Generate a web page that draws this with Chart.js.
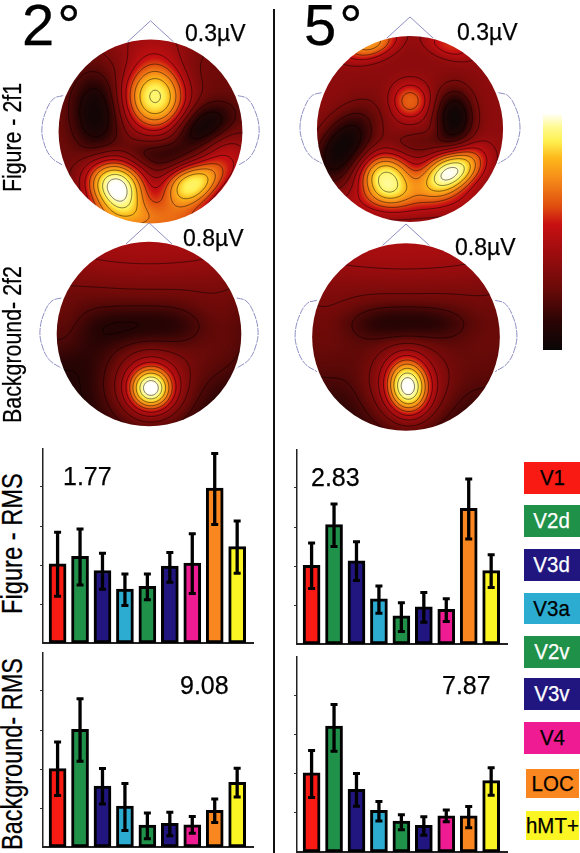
<!DOCTYPE html>
<html><head><meta charset="utf-8">
<style>
html,body{margin:0;padding:0;background:#fff;width:580px;height:853px;overflow:hidden}
#stage{position:relative;width:580px;height:853px;font-family:"Liberation Sans",Arial,sans-serif}
canvas{position:absolute;display:block}
.t{position:absolute;line-height:1;white-space:nowrap;z-index:5;color:#000;-webkit-text-stroke:.25px currentColor}
.key{position:absolute;z-index:5;display:flex;align-items:center;justify-content:center;font-size:22px;line-height:1;-webkit-text-stroke:.25px currentColor}
.key span{display:inline-block;transform:scaleX(.93);white-space:nowrap}
#divider{position:absolute;left:273px;top:9px;width:2px;height:844px;background:#111}
</style></head><body>
<div id="stage"><div id="divider"></div></div>
<script src="https://cdn.jsdelivr.net/npm/chart.js@4/dist/chart.umd.js"></script>
<script>
const regions = ['V1','V2d','V3d','V3a','V2v','V3v','V4','LOC','hMT+'];
const regionColors = ['#fa1a14','#1f9148','#21167f','#2bacd0','#1f9148','#21167f','#ef1b93','#f9861e','#fbf523'];
const regionText = ['#000','#fff','#fff','#000','#fff','#fff','#000','#000','#000'];

const fig2Mean = [2.03,2.22,1.86,1.38,1.45,1.97,2.05,3.97,2.47];
const fig2Hi   = [2.84,2.92,2.30,1.77,1.77,2.32,2.80,4.86,3.13];
const fig2Lo   = [1.20,1.49,1.38,0.96,1.11,1.56,1.27,3.04,1.79];
const bg2Mean  = [2.01,3.02,1.56,1.05,0.56,0.61,0.57,0.94,1.66];
const bg2Hi    = [2.69,3.80,2.01,1.63,0.87,0.89,0.78,1.23,2.02];
const bg2Lo    = [1.32,2.20,1.10,0.42,0.21,0.29,0.35,0.63,1.28];
const fig5Mean = [2.02,3.06,2.13,1.16,0.72,0.95,0.89,3.48,1.88];
const fig5Hi   = [2.59,3.59,2.62,1.49,1.06,1.32,1.16,4.23,2.29];
const fig5Lo   = [1.42,2.50,1.63,0.79,0.32,0.56,0.58,2.69,1.45];
const bg5Mean  = [2.02,3.21,1.60,1.06,0.79,0.68,0.92,0.92,1.82];
const bg5Hi    = [2.59,3.76,2.00,1.29,0.95,0.90,1.07,1.16,2.15];
const bg5Lo    = [1.39,2.57,1.17,0.79,0.57,0.43,0.77,0.62,1.45];

const colorStops = [0,.12,.26,.40,.53,.61,.72,.81,.88,.94,1];
const colorHex = ['#0a0606','#2a0404','#6a0a08','#9a0c0e','#c81012','#e0500f','#f58a18','#fdb81a','#fff050','#fffa90','#ffffff'];

/* scalp maps: base level + blobs [x, y, amplitude, sigmaX, sigmaY, tilt] in head units */
const head2f1Base = 0.27;
const head2f1Blobs = [[.05,.38,.64,.25,.28,0],[-.6,.2,-.24,.2,.32,.05],[.58,.06,-.24,.26,.16,.5],[.1,-.25,-.13,.28,.12,-.1],
 [-.37,-.6,.74,.25,.21,-.5],[.45,-.58,.62,.25,.17,.4],[0,-1.0,.38,.6,.18,0],[0,1,.14,.4,.22,0],[.85,-.3,.2,.2,.2,0]];
const head5f1Base = 0.36;
const head5f1Blobs = [[-.43,.92,.38,.22,.12,.3],[.43,.9,.2,.2,.1,-.3],[0,.3,.28,.15,.15,0],[.48,.12,-.34,.16,.24,0],
 [-.72,-.2,-.34,.2,.35,-.6],[-.25,-.54,.57,.22,.19,-.4],[.43,-.47,.64,.27,.16,.5],[.1,-.15,-.1,.25,.1,0],[0,-.78,.12,.6,.12,0]];
const head2f2Base = 0.08;
const head2f2Blobs = [[.02,-.59,.56,.17,.17,0],[.02,-.55,.38,.36,.36,0],[0,1.1,.36,2,.62,0],[0,.08,-.1,.5,.16,0],
 [.75,-.1,.14,.3,.35,0],[-1,.05,.1,.25,.25,0]];
const head5f2Base = 0.09;
const head5f2Blobs = [[.02,-.53,.56,.16,.21,.1],[.02,-.5,.36,.36,.38,0],[0,1.1,.36,2,.62,0],[0,.15,-.13,.45,.14,0],
 [-.9,-.1,.14,.35,.4,0],[.9,-.2,.14,.35,.4,0]];

const noseX = [-.25,0,.25], noseY = [.975,1.204,.975];
const earX = [.95,1.05,1.13,1.18,1.16,1.08,.95], earY = [.39,.36,.24,.05,-.12,-.28,-.37];
const contourLevels = [.1,.2,.3,.4,.5,.6,.7,.8,.9,.97];

Chart.defaults.animation = false;
const stage = document.getElementById('stage');
function mk(x,y,w,h){const c=document.createElement('canvas');c.width=w;c.height=h;c.style.left=x+'px';c.style.top=y+'px';c.style.width=w+'px';c.style.height=h+'px';stage.appendChild(c);return c;}
function txt(s,x,base,fs,extra){const d=document.createElement('div');d.className='t';d.textContent=s;d.style.left=x+'px';d.style.top=(base-.8465*fs)+'px';d.style.fontSize=fs+'px';if(extra)Object.assign(d.style,extra);stage.appendChild(d);}
function vtxt(s,bx,bottom,fs,sx){const d=document.createElement('div');d.className='t';d.textContent=s;d.style.left=(bx-.8465*fs)+'px';d.style.top=bottom+'px';d.style.fontSize=fs+'px';d.style.transformOrigin='0 0';d.style.transform='rotate(-90deg) scaleX('+sx+')';stage.appendChild(d);}

const rgb = colorHex.map(h=>[parseInt(h.slice(1,3),16),parseInt(h.slice(3,5),16),parseInt(h.slice(5,7),16)]);
function cmap(v){v=Math.max(0,Math.min(1,v));let i=0;while(i<colorStops.length-2&&v>colorStops[i+1])i++;
 const t=(v-colorStops[i])/(colorStops[i+1]-colorStops[i]),a=rgb[i],b=rgb[i+1];return [a[0]+(b[0]-a[0])*t,a[1]+(b[1]-a[1])*t,a[2]+(b[2]-a[2])*t];}
function field(base,blobs,x,y){let v=base;for(const [bx,by,a,sx,sy,r] of blobs){const dx=x-bx,dy=y-by,c=Math.cos(r),s=Math.sin(r),u=(dx*c+dy*s)/sx,w=(-dx*s+dy*c)/sy;v+=a*Math.exp(-.5*Math.pow(u*u+w*w,1.2));}return v;}

function headPlugin(base,blobs){return {id:'scalp',beforeDatasetsDraw(chart){
 const {ctx,scales:{x:X,y:Y}}=chart;const cx=X.getPixelForValue(0),cy=Y.getPixelForValue(0),R=X.getPixelForValue(1)-cx;
 const S=Math.ceil(2*R)+2,off=document.createElement('canvas');off.width=off.height=S;const oc=off.getContext('2d'),im=oc.createImageData(S,S);
 const F=(px,py)=>field(base,blobs,(px-S/2)/R,-(py-S/2)/R);
 for(let j=0;j<S;j++)for(let i=0;i<S;i++){const c=cmap(F(i+.5,j+.5)),k=4*(j*S+i);im.data[k]=c[0];im.data[k+1]=c[1];im.data[k+2]=c[2];im.data[k+3]=255;}
 oc.putImageData(im,0,0);
 ctx.save();ctx.beginPath();ctx.arc(cx,cy,R,0,7);ctx.clip();ctx.drawImage(off,cx-S/2,cy-S/2);
 ctx.strokeStyle='rgba(0,0,0,.62)';ctx.lineWidth=.8;
 const st=2;
 for(const L of contourLevels){ctx.beginPath();
  for(let j=0;j<S;j+=st)for(let i=0;i<S;i+=st){
   const a=F(i,j)-L,b=F(i+st,j)-L,c=F(i+st,j+st)-L,d=F(i,j+st)-L,pts=[];
   if(a*b<0)pts.push([i+st*a/(a-b),j]);
   if(b*c<0)pts.push([i+st,j+st*b/(b-c)]);
   if(d*c<0)pts.push([i+st*d/(d-c),j+st]);
   if(a*d<0)pts.push([i,j+st*a/(a-d)]);
   for(let q=0;q+1<pts.length;q+=2){ctx.moveTo(cx-S/2+pts[q][0],cy-S/2+pts[q][1]);ctx.lineTo(cx-S/2+pts[q+1][0],cy-S/2+pts[q+1][1]);}
  }
  ctx.stroke();}
 ctx.restore();
}};}
function head(cx,cy,R,base,blobs){
 const E=1.3,s=Math.round(2*E*R),c=mk(Math.round(cx-s/2),Math.round(cy-s/2),s,s);
 const line=(xs,ys,dash,tension)=>({data:xs.map((x,i)=>({x,y:ys[i]})),showLine:true,borderColor:'#8e8ec4',borderWidth:1,pointRadius:0,tension,borderDash:dash||[]});
 new Chart(c,{type:'scatter',data:{datasets:[line(noseX,noseY,null,0),line(earX,earY,[7,1],.4),line(earX.map(v=>-v),earY,[7,1],.4)]},
  options:{responsive:false,layout:{padding:0},plugins:{legend:{display:false},tooltip:{enabled:false}},
   scales:{x:{display:false,min:-E,max:E},y:{display:false,min:-E,max:E}}},plugins:[headPlugin(base,blobs)]});
}
const errPlugin=(hi,lo)=>({id:'err',afterDatasetsDraw(chart){const {ctx,scales:{x:X,y:Y}}=chart;ctx.save();ctx.strokeStyle='#000';ctx.lineCap='butt';
 hi.forEach((h,i)=>{const px=X.getPixelForValue(i),a=Y.getPixelForValue(h),b=Y.getPixelForValue(lo[i]);
  ctx.lineWidth=3.3;ctx.beginPath();ctx.moveTo(px,a);ctx.lineTo(px,b);ctx.stroke();
  ctx.lineWidth=3;ctx.beginPath();ctx.moveTo(px-3.5,a);ctx.lineTo(px+3.5,a);ctx.moveTo(px-3.5,b);ctx.lineTo(px+3.5,b);ctx.stroke();});
 ctx.restore();}});
function bars(axisX,top,base,mean,hi,lo){
 const w=Math.round(9.4*22.4)+4,h=base-top+3,c=mk(axisX-4,top,w,h);
 new Chart(c,{type:'bar',data:{datasets:[{data:mean.map((y,x)=>({x,y})),backgroundColor:regionColors,borderColor:'#000',borderWidth:3,borderSkipped:false,barThickness:17}]},
  options:{responsive:false,layout:{padding:0},plugins:{legend:{display:false},tooltip:{enabled:false}},
   scales:{x:{type:'linear',offset:false,min:-.65,max:8.75,grid:{display:false},ticks:{display:false},border:{color:'#222',width:2},afterFit:s=>{s.height=3;}},
    y:{min:0,max:5,afterBuildTicks:s=>{s.ticks=s.ticks.filter(t=>t.value<5&&t.value>0);},ticks:{display:false,stepSize:1},grid:{drawOnChartArea:false,drawTicks:true,tickLength:3,color:'#333',lineWidth:1},border:{color:'#222',width:1.5},afterFit:s=>{s.width=4;}}}},
  plugins:[errPlugin(hi,lo)]});
}
head(150.5,131.5,92,head2f1Base,head2f1Blobs);
head(410,129,93,head5f1Base,head5f1Blobs);
head(149,334,92.3,head2f2Base,head2f2Blobs);
head(406.3,337,93.7,head5f2Base,head5f2Blobs);
bars(43,448,643,fig2Mean,fig2Hi,fig2Lo);
bars(43,652,847,bg2Mean,bg2Hi,bg2Lo);
bars(297,449,644,fig5Mean,fig5Hi,fig5Lo);
bars(297,656,852,bg5Mean,bg5Hi,bg5Lo);

/* colour bar */
new Chart(mk(543,113,19,237),{type:'bar',data:{labels:['scale'],datasets:[{data:[[0,1]],barPercentage:1,categoryPercentage:1,borderWidth:0,
  backgroundColor(ctx){const a=ctx.chart.chartArea;if(!a)return '#000';const g=ctx.chart.ctx.createLinearGradient(0,a.bottom,0,a.top);colorStops.forEach((s,i)=>g.addColorStop(s,colorHex[i]));return g;}}]},
 options:{responsive:false,layout:{padding:0},plugins:{legend:{display:false},tooltip:{enabled:false}},scales:{x:{display:false},y:{display:false,min:0,max:1}}}});

/* key */
const keyBoxes=[[524,462,56,32],[524,505,56,32],[524,549,56,32],[524,593,56,31],[524,636,56,32],[524,678,56,32],[524,722,56,32],[526,769,53,29],[526,811,53,29]];
regions.forEach((r,i)=>{const d=document.createElement('div');d.className='key';const b=keyBoxes[i];const sp=document.createElement('span');sp.textContent=r;d.appendChild(sp);
 Object.assign(d.style,{left:b[0]+'px',top:b[1]+'px',width:b[2]+'px',height:b[3]+'px',background:regionColors[i],color:regionText[i]});stage.appendChild(d);});

txt('2°',22,45,58,{letterSpacing:'3px'});
txt('5°',304,45,58,{letterSpacing:'3px'});
txt('0.3µV',185,41.5,23);txt('0.3µV',457,40,23);
txt('0.8µV',183,246.5,23);txt('0.8µV',455,255,23);
txt('1.77',63,485,25);txt('2.83',311,486,25);txt('9.08',180,694,25);txt('7.87',442,694,25);
vtxt('Figure - 2f1',21,192,25,.853);
vtxt('Background- 2f2',21,423,25,.855);
vtxt('Figure - RMS',22,614,30,.79);
vtxt('Background- RMS',22,850,30,.783);
</script></body></html>
